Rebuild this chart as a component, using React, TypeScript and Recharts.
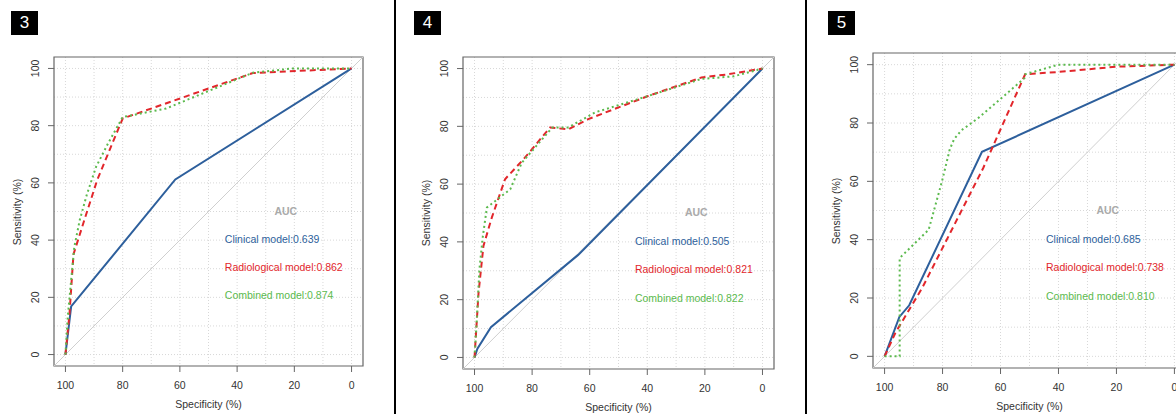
import React from "react";
import {
  LineChart,
  Line,
  XAxis,
  YAxis,
  CartesianGrid,
  ReferenceLine,
  ReferenceArea,
  ReferenceDot,
} from "recharts";

// ROC curve points: specificity (%) vs sensitivity (%)
const clinical3 = [
  { spec: 100, sens: 0 },
  { spec: 98, sens: 16.8 },
  { spec: 61.6, sens: 61.2 },
  { spec: 0, sens: 100 },
];
const radiological3 = [
  { spec: 100, sens: 0 },
  { spec: 98.6, sens: 14 },
  { spec: 97.2, sens: 35 },
  { spec: 93.4, sens: 47 },
  { spec: 88.9, sens: 61 },
  { spec: 80, sens: 82.5 },
  { spec: 34.5, sens: 98.4 },
  { spec: 0, sens: 100 },
];
const combined3 = [
  { spec: 100, sens: 0 },
  { spec: 99.2, sens: 13 },
  { spec: 98.1, sens: 25 },
  { spec: 96.9, sens: 37.6 },
  { spec: 95, sens: 47 },
  { spec: 92.5, sens: 56 },
  { spec: 89.3, sens: 65.6 },
  { spec: 85, sens: 74 },
  { spec: 80, sens: 83 },
  { spec: 64.8, sens: 86 },
  { spec: 34.5, sens: 98.5 },
  { spec: 20.5, sens: 100 },
  { spec: 0, sens: 100 },
];

const clinical4 = [
  { spec: 100, sens: 0 },
  { spec: 99, sens: 3 },
  { spec: 94.3, sens: 10.5 },
  { spec: 64, sens: 35.5 },
  { spec: 0, sens: 100 },
];
const radiological4 = [
  { spec: 100, sens: 0 },
  { spec: 99.5, sens: 8 },
  { spec: 98.6, sens: 22.4 },
  { spec: 96.9, sens: 38.6 },
  { spec: 94, sens: 48.4 },
  { spec: 89.4, sens: 61.7 },
  { spec: 83, sens: 68.6 },
  { spec: 80.1, sens: 72 },
  { spec: 73.8, sens: 79.6 },
  { spec: 67.4, sens: 79 },
  { spec: 60.5, sens: 82.5 },
  { spec: 39.7, sens: 90.5 },
  { spec: 21.2, sens: 96.9 },
  { spec: 12, sens: 98 },
  { spec: 0, sens: 100 },
];
const combined4 = [
  { spec: 100, sens: 0 },
  { spec: 99.2, sens: 13.2 },
  { spec: 98.3, sens: 30.5 },
  { spec: 97.1, sens: 42 },
  { spec: 95.7, sens: 51.9 },
  { spec: 87.6, sens: 58.2 },
  { spec: 83.6, sens: 67.4 },
  { spec: 80, sens: 71.5 },
  { spec: 73, sens: 79.6 },
  { spec: 67.4, sens: 79.6 },
  { spec: 58.2, sens: 84.8 },
  { spec: 39.7, sens: 90.5 },
  { spec: 21.2, sens: 96.4 },
  { spec: 10, sens: 97.3 },
  { spec: 0, sens: 100 },
];

const clinical5 = [
  { spec: 100, sens: 0 },
  { spec: 94.9, sens: 13.5 },
  { spec: 91.5, sens: 17.5 },
  { spec: 66.4, sens: 70.1 },
  { spec: 0, sens: 100 },
];
const radiological5 = [
  { spec: 100, sens: 0 },
  { spec: 96.3, sens: 8 },
  { spec: 87, sens: 23.5 },
  { spec: 66, sens: 64.5 },
  { spec: 51.5, sens: 96.7 },
  { spec: 40, sens: 97.5 },
  { spec: 20, sens: 99.3 },
  { spec: 0, sens: 100 },
];
const combined5 = [
  { spec: 100, sens: 0 },
  { spec: 94.8, sens: 0 },
  { spec: 94.8, sens: 33.7 },
  { spec: 84.8, sens: 43.4 },
  { spec: 80.2, sens: 60 },
  { spec: 77.5, sens: 71 },
  { spec: 76, sens: 74.5 },
  { spec: 73.5, sens: 77.5 },
  { spec: 70, sens: 80 },
  { spec: 67.3, sens: 82 },
  { spec: 51.7, sens: 95.4 },
  { spec: 51.5, sens: 96.7 },
  { spec: 40, sens: 100 },
  { spec: 0, sens: 100 },
];

const axisTicks = [0, 20, 40, 60, 80, 100];
const gridValues = [0, 10, 20, 30, 40, 50, 60, 70, 80, 90, 100];
const modelNames = ["Clinical model", "Radiological model", "Combined model"];
const auc3 = ["0.639", "0.862", "0.874"];
const auc4 = ["0.505", "0.821", "0.822"];
const auc5 = ["0.685", "0.738", "0.810"];

const BLUE = "#2d5f9c";
const RED = "#e2262b";
const GREEN = "#5cba4e";
const FONT = "'Liberation Sans', Arial, sans-serif";

const YTick = ({ x, y, payload }: any) => (
  <text
    x={x}
    y={y}
    transform={`rotate(-90 ${x} ${y})`}
    textAnchor="middle"
    dominantBaseline="central"
    fontSize={10.5}
    fill="#333"
  >
    {payload.value}
  </text>
);

const RocPanel = ({ num, plot, labelBox, curves, aucs }: any) => {
  const W = plot.w + 60;
  const H = plot.h + 60;
  const colors = [BLUE, RED, GREEN];
  const legendSens = [40.3, 30.6, 20.6];
  return (
    <>
      <div
        style={{
          position: "absolute",
          left: labelBox.x,
          top: labelBox.y,
          width: 27,
          height: 24,
          background: "#000",
          color: "#fff",
          fontSize: 17,
          lineHeight: "24px",
          textAlign: "center",
        }}
      >
        {num}
      </div>
      <div style={{ position: "absolute", left: plot.x - 50, top: plot.y - 10 }}>
        <LineChart width={W} height={H} margin={{ top: 10, right: 10, bottom: 0, left: 0 }}>
          <CartesianGrid
            stroke="#d8d8d8"
            strokeDasharray="1 2"
            horizontalValues={gridValues}
            verticalValues={gridValues}
          />
          <XAxis
            type="number"
            dataKey="spec"
            domain={[-4, 104]}
            reversed
            ticks={axisTicks}
            interval={0}
            allowDataOverflow
            axisLine={false}
            tickLine={{ stroke: "#666" }}
            tickSize={6}
            tickMargin={10}
            height={50}
            tick={{ fill: "#333", fontSize: 10.5 }}
          />
          <YAxis
            type="number"
            dataKey="sens"
            domain={[-4, 104]}
            ticks={axisTicks}
            interval={0}
            allowDataOverflow
            axisLine={false}
            tickLine={{ stroke: "#666" }}
            tickSize={6}
            tickMargin={13}
            width={50}
            tick={<YTick />}
          />
          <ReferenceLine
            segment={[
              { x: 104, y: -4 },
              { x: -4, y: 104 },
            ]}
            stroke="#cfcfcf"
            strokeWidth={1}
          />
          <ReferenceArea x1={-4} x2={104} y1={-4} y2={104} fill="none" stroke="#666" strokeWidth={1.2} />
          {curves.map((data: any, i: number) => (
            <Line
              key={i}
              data={data}
              dataKey="sens"
              type="linear"
              stroke={colors[i]}
              strokeWidth={2}
              strokeDasharray={i === 1 ? "6 4" : i === 2 ? "2 3" : undefined}
              dot={false}
              activeDot={false}
              isAnimationActive={false}
            />
          ))}
          <ReferenceDot
            x={23}
            y={50.1}
            r={0}
            stroke="none"
            label={{ value: "AUC", position: "center", fill: "#aaa", fontSize: 10.5, fontWeight: "bold" }}
          />
          {aucs.map((v: string, i: number) => (
            <ReferenceDot
              key={i}
              x={44.3}
              y={legendSens[i]}
              r={0}
              stroke="none"
              label={{
                value: `${modelNames[i]}:${v}`,
                position: "right",
                offset: 0,
                fill: colors[i],
                fontSize: 10.5,
              }}
            />
          ))}
        </LineChart>
      </div>
      <div
        style={{
          position: "absolute",
          left: plot.x + plot.w / 2,
          top: plot.y + plot.h + 38,
          transform: "translate(-50%, -50%)",
          fontSize: 10.5,
          color: "#333",
          whiteSpace: "nowrap",
        }}
      >
        Specificity (%)
      </div>
      <div
        style={{
          position: "absolute",
          left: plot.x - 37,
          top: plot.y + plot.h / 2,
          transform: "translate(-50%, -50%) rotate(-90deg)",
          fontSize: 10.5,
          color: "#333",
          whiteSpace: "nowrap",
        }}
      >
        Sensitivity (%)
      </div>
    </>
  );
};

export default function App() {
  return (
    <div
      style={{
        position: "absolute",
        left: 0,
        top: 0,
        width: 1176,
        height: 414,
        overflow: "hidden",
        background: "#fff",
        fontFamily: FONT,
      }}
    >
      <RocPanel
        num="3"
        plot={{ x: 54, y: 57, w: 309, h: 309 }}
        labelBox={{ x: 11, y: 11 }}
        curves={[clinical3, radiological3, combined3]}
        aucs={auc3}
      />
      <RocPanel
        num="4"
        plot={{ x: 463, y: 57, w: 311, h: 312 }}
        labelBox={{ x: 414, y: 11 }}
        curves={[clinical4, radiological4, combined4]}
        aucs={auc4}
      />
      <RocPanel
        num="5"
        plot={{ x: 873, y: 53, w: 313, h: 315 }}
        labelBox={{ x: 828, y: 11 }}
        curves={[clinical5, radiological5, combined5]}
        aucs={auc5}
      />
      <div style={{ position: "absolute", left: 394, top: 0, width: 2, height: 414, background: "#000" }} />
      <div style={{ position: "absolute", left: 805, top: 0, width: 2, height: 414, background: "#000" }} />
    </div>
  );
}
